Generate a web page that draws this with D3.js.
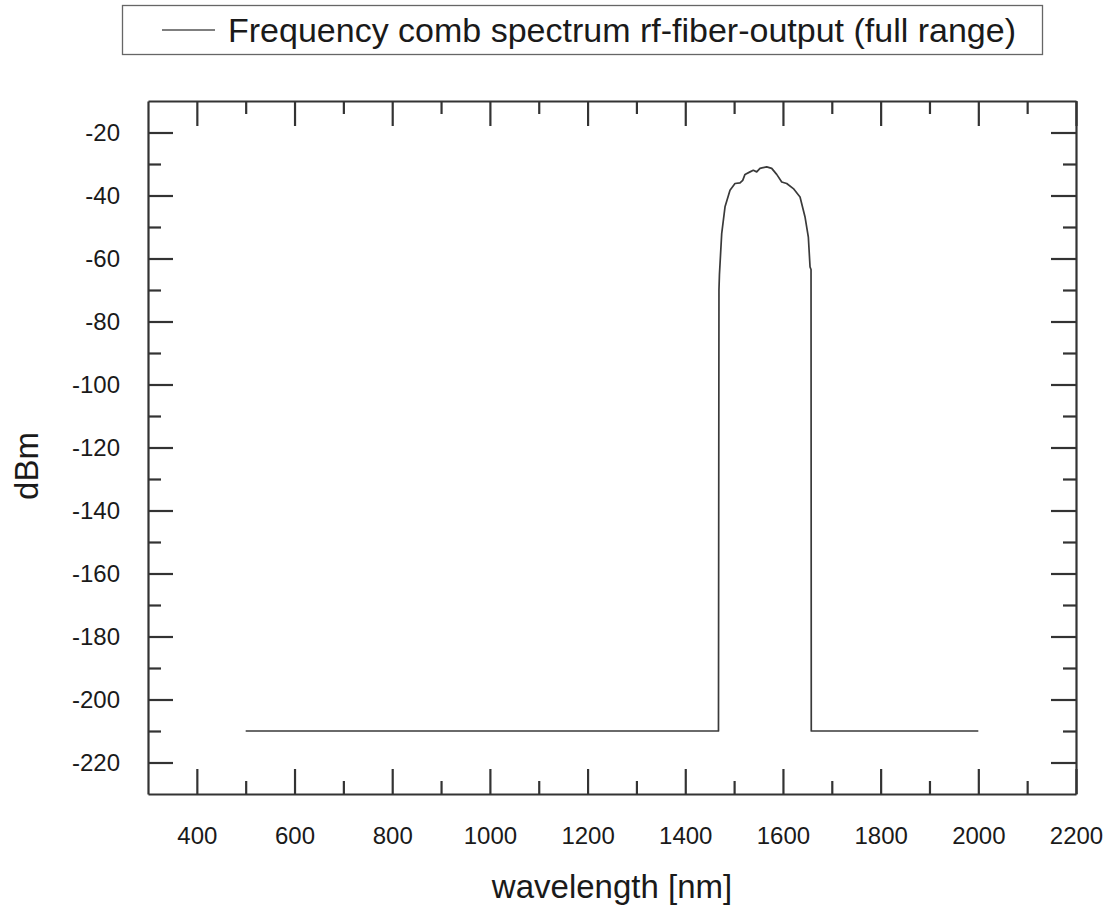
<!DOCTYPE html>
<html>
<head>
<meta charset="utf-8">
<script src="https://cdn.jsdelivr.net/npm/d3@7"></script>
<style>
  body { margin: 0; background: #fff; }
  text { font-family: "Liberation Sans", Arial, sans-serif; fill: #1a1a1a; }
</style>
</head>
<body>
<svg id="chart"></svg>
<script>
// wavelength [nm] / power [dBm]
const wavelength = [500, 1468, 1469, 1470, 1474.6, 1481.4, 1491.6, 1501.8, 1512.1, 1517.6, 1522.3, 1532.6,
  1539.3, 1546.3, 1553.0, 1566.8, 1577.0, 1587.2, 1597.5, 1607.7, 1621.3, 1635.0, 1645.2, 1652.0,
  1655.5, 1657.5, 1658, 2000];
const power = [-210, -210, -70, -65, -52.1, -43.6, -38.3, -36.2, -36.0, -35.2, -33.3, -32.5,
  -32.0, -32.5, -31.4, -30.9, -31.4, -33.3, -35.7, -36.2, -37.8, -40.5, -46.8, -53.2,
  -62.7, -63.5, -210, -210];

const xMajor = [400, 600, 800, 1000, 1200, 1400, 1600, 1800, 2000, 2200];
const xMinor = [500, 700, 900, 1100, 1300, 1500, 1700, 1900, 2100];
const yMajor = [-20, -40, -60, -80, -100, -120, -140, -160, -180, -200, -220];
const yMinor = [-30, -50, -70, -90, -110, -130, -150, -170, -190, -210];

const legendLabel = "Frequency comb spectrum rf-fiber-output (full range)";
const xTitle = "wavelength [nm]";
const yTitle = "dBm";

const config = {
    width: 1111,
    height: 912,
    margin: {top: 101, right: 35, bottom: 118, left: 148},
    majorLen: 25,
    minorLen: 13,
    axisColor: "#333"
};

const innerW = config.width - config.margin.left - config.margin.right;
const innerH = config.height - config.margin.top - config.margin.bottom;

const svg = d3.select("#chart")
    .attr("width", config.width)
    .attr("height", config.height);

const x = d3.scaleLinear().domain([300, 2200]).range([0, innerW]);
const y = d3.scaleLinear().domain([-230, -10]).range([innerH, 0]);

const g = svg.append("g")
    .attr("transform", `translate(${config.margin.left},${config.margin.top})`);

// plain hyphen for negatives, like the original
const fmt = d => String(d);

// axes: inward ticks on all four sides, labels left and bottom only
function styleAxis(sel) {
    sel.selectAll("path").attr("stroke", config.axisColor).attr("stroke-width", 2.2);
    sel.selectAll("line").attr("stroke", config.axisColor).attr("stroke-width", 2.2);
    sel.selectAll("text").style("font-size", "24px").attr("fill", "#1a1a1a");
}

const bottomG = g.append("g").attr("transform", `translate(0,${innerH})`);
bottomG.call(d3.axisBottom(x).tickValues(xMajor).tickSizeInner(-config.majorLen).tickSizeOuter(0).tickPadding(33).tickFormat(fmt));
bottomG.append("g").call(d3.axisBottom(x).tickValues(xMinor).tickSize(-config.minorLen).tickFormat(""))
    .select(".domain").remove();
styleAxis(bottomG);

const topG = g.append("g");
topG.call(d3.axisTop(x).tickValues(xMajor).tickSizeInner(-config.majorLen).tickSizeOuter(0).tickFormat(""));
topG.append("g").call(d3.axisTop(x).tickValues(xMinor).tickSize(-config.minorLen).tickFormat(""))
    .select(".domain").remove();
styleAxis(topG);

const leftG = g.append("g");
leftG.call(d3.axisLeft(y).tickValues(yMajor).tickSizeInner(-config.majorLen).tickSizeOuter(0).tickPadding(28).tickFormat(fmt));
leftG.append("g").call(d3.axisLeft(y).tickValues(yMinor).tickSize(-config.minorLen).tickFormat(""))
    .select(".domain").remove();
styleAxis(leftG);

const rightG = g.append("g").attr("transform", `translate(${innerW},0)`);
rightG.call(d3.axisRight(y).tickValues(yMajor).tickSizeInner(-config.majorLen).tickSizeOuter(0).tickFormat(""));
rightG.append("g").call(d3.axisRight(y).tickValues(yMinor).tickSize(-config.minorLen).tickFormat(""))
    .select(".domain").remove();
styleAxis(rightG);

// spectrum line
const data = wavelength.map((w, i) => ({w: w, p: power[i]}));

g.append("path")
    .datum(data)
    .attr("fill", "none")
    .attr("stroke", "#3a3a3a")
    .attr("stroke-width", 1.7)
    .attr("stroke-linejoin", "round")
    .attr("d", d3.line().x(d => x(d.w)).y(d => y(d.p)));

// axis titles
svg.append("text")
    .attr("x", 612)
    .attr("y", 898)
    .attr("text-anchor", "middle")
    .style("font-size", "33px")
    .text(xTitle);

svg.append("text")
    .attr("transform", "translate(38,466) rotate(-90)")
    .attr("text-anchor", "middle")
    .style("font-size", "33px")
    .text(yTitle);

// legend
const legend = svg.append("g");
legend.append("rect")
    .attr("x", 122.5).attr("y", 5.5)
    .attr("width", 920).attr("height", 49)
    .attr("fill", "#fff")
    .attr("stroke", "#666")
    .attr("stroke-width", 1.3);
legend.append("line")
    .attr("x1", 162).attr("x2", 215)
    .attr("y1", 30).attr("y2", 30)
    .attr("stroke", "#555")
    .attr("stroke-width", 1.6);
legend.append("text")
    .attr("x", 228)
    .attr("y", 42)
    .style("font-size", "34px")
    .text(legendLabel);
</script>
</body>
</html>
